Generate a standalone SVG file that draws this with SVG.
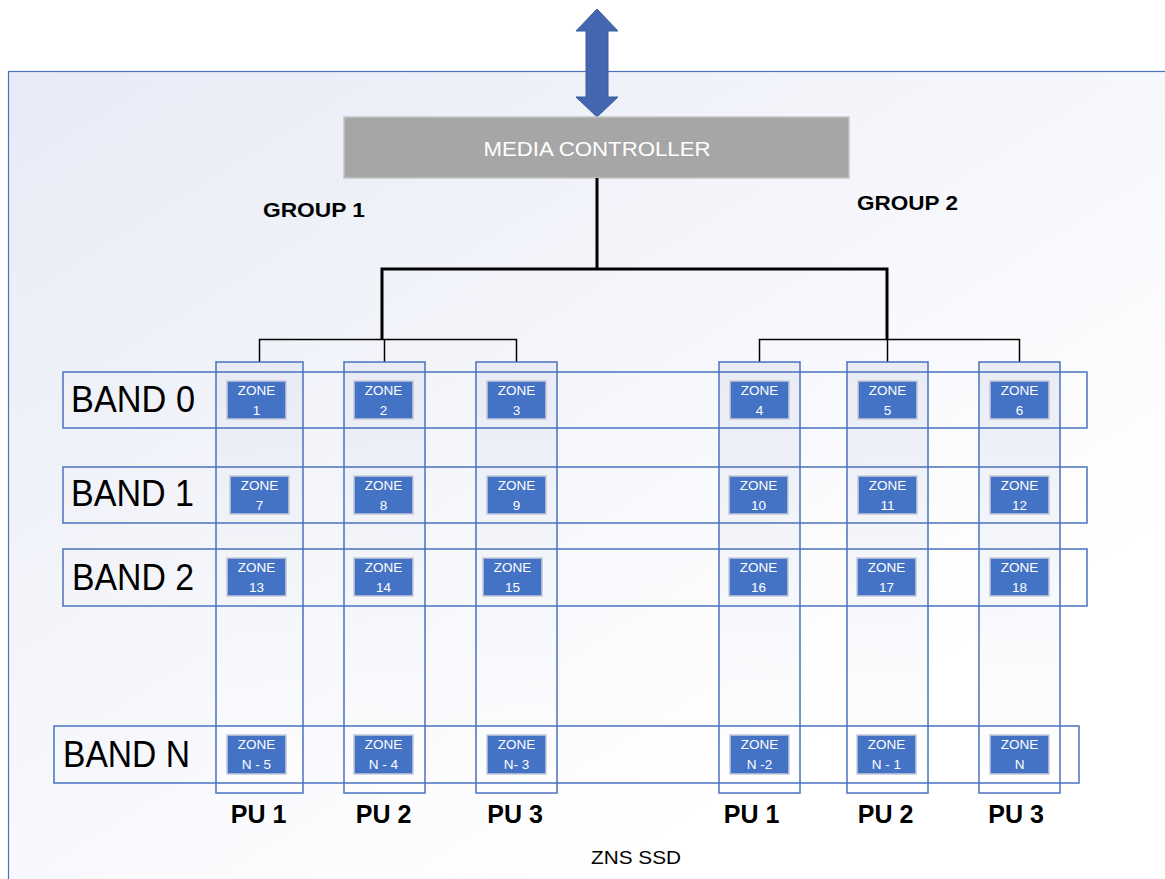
<svg xmlns="http://www.w3.org/2000/svg" width="1165" height="879" viewBox="0 0 1165 879">
<style>
.frame{fill:url(#bg);stroke:#4a72c0;stroke-width:1.2}
.col{fill:url(#colg);stroke:#4a72c0;stroke-width:1.5}
.band{fill:none;stroke:#4a72c0;stroke-width:1.5}
.zone rect{fill:#4472c4;stroke:#c3cad8;stroke-width:1.5}
.zone text{fill:#ffffff;font-family:"Liberation Sans","Open Sans",sans-serif;font-size:13.5px;text-anchor:middle}
.bandlbl{fill:#000;font-family:"Liberation Sans",sans-serif;font-size:36px}
.pu{fill:#000;font-family:"Liberation Sans",sans-serif;font-size:25px;font-weight:bold;text-anchor:middle}
.grp{fill:#000;font-family:"Liberation Sans",sans-serif;font-size:20px;font-weight:bold}
.thick{stroke:#000;stroke-width:3;fill:none}
.thin{stroke:#000;stroke-width:1.5;fill:none}
</style>
<defs>
<linearGradient id="bg" x1="0" y1="0" x2="0.7" y2="0.8">
<stop offset="0" stop-color="#e8ebf6"/>
<stop offset="1" stop-color="#ffffff"/>
</linearGradient>
<linearGradient id="colg" x1="0" y1="0" x2="0" y2="1">
<stop offset="0" stop-color="#e6e9f4" stop-opacity="0.85"/>
<stop offset="1" stop-color="#ffffff" stop-opacity="0.5"/>
</linearGradient>
</defs>
<rect x="0" y="0" width="1165" height="879" fill="#ffffff"/>
<rect class="frame" x="8.5" y="71.5" width="1160" height="830"/>

<g id="arrow">
<polygon points="597,9 618,31 608,31 608,97 618,97 597,117 576,97 586,97 586,31 576,31" fill="#4466b0" stroke="#3a5c9e" stroke-width="1"/>
</g>

<g id="media-controller">
<rect x="344" y="117" width="505" height="61" fill="#a6a6a6" stroke="#c4c4c4" stroke-width="1.5"/>
<text x="597" y="156" fill="#ffffff" font-family="Liberation Sans, sans-serif" font-size="21" text-anchor="middle" textLength="227" lengthAdjust="spacingAndGlyphs">MEDIA CONTROLLER</text>
</g>

<g id="group1-label"><text class="grp" x="263" y="217" textLength="102" lengthAdjust="spacingAndGlyphs">GROUP 1</text></g>
<g id="group2-label"><text class="grp" x="857" y="210" textLength="101" lengthAdjust="spacingAndGlyphs">GROUP 2</text></g>

<g id="connectors">
<polyline class="thick" points="597,178 597,269"/>
<polyline class="thick" points="382,340 382,269 887,269 887,340"/>
<polyline class="thin" points="259.5,362 259.5,339.5 516.5,339.5 516.5,362"/>
<line class="thin" x1="384.5" y1="339.5" x2="384.5" y2="362"/>
<polyline class="thin" points="759.5,362 759.5,339.5 1019.5,339.5 1019.5,362"/>
<line class="thin" x1="887.5" y1="339.5" x2="887.5" y2="362"/>
</g>

<g id="pu-columns">
<rect class="col" x="216" y="362" width="87" height="431"/>
<rect class="col" x="344" y="362" width="81" height="431"/>
<rect class="col" x="476" y="362" width="81" height="431"/>
<rect class="col" x="719" y="362" width="81" height="431"/>
<rect class="col" x="847" y="362" width="81" height="431"/>
<rect class="col" x="979" y="362" width="81" height="431"/>
</g>

<g id="band0"><rect class="band" x="63" y="372" width="1024" height="56"/><text class="bandlbl" x="71" y="412" textLength="124" lengthAdjust="spacingAndGlyphs">BAND 0</text></g>
<g id="band1"><rect class="band" x="63" y="467" width="1024" height="56"/><text class="bandlbl" x="71" y="506" textLength="123" lengthAdjust="spacingAndGlyphs">BAND 1</text></g>
<g id="band2"><rect class="band" x="63" y="549" width="1024" height="57"/><text class="bandlbl" x="72" y="590" textLength="122" lengthAdjust="spacingAndGlyphs">BAND 2</text></g>
<g id="bandN"><rect class="band" x="54" y="726" width="1025" height="57"/><text class="bandlbl" x="63" y="767" textLength="127" lengthAdjust="spacingAndGlyphs">BAND N</text></g>

<g id="zone1" class="zone"><rect x="227" y="381" width="59" height="38"/><text x="256.5" y="395">ZONE</text><text x="256.5" y="415">1</text></g>
<g id="zone2" class="zone"><rect x="354" y="381" width="59" height="38"/><text x="383.5" y="395">ZONE</text><text x="383.5" y="415">2</text></g>
<g id="zone3" class="zone"><rect x="487" y="381" width="59" height="38"/><text x="516.5" y="395">ZONE</text><text x="516.5" y="415">3</text></g>
<g id="zone4" class="zone"><rect x="730" y="381" width="59" height="38"/><text x="759.5" y="395">ZONE</text><text x="759.5" y="415">4</text></g>
<g id="zone5" class="zone"><rect x="858" y="381" width="59" height="38"/><text x="887.5" y="395">ZONE</text><text x="887.5" y="415">5</text></g>
<g id="zone6" class="zone"><rect x="990" y="381" width="59" height="38"/><text x="1019.5" y="395">ZONE</text><text x="1019.5" y="415">6</text></g>

<g id="zone7" class="zone"><rect x="230" y="476" width="59" height="38"/><text x="259.5" y="490">ZONE</text><text x="259.5" y="510">7</text></g>
<g id="zone8" class="zone"><rect x="354" y="476" width="59" height="38"/><text x="383.5" y="490">ZONE</text><text x="383.5" y="510">8</text></g>
<g id="zone9" class="zone"><rect x="487" y="476" width="59" height="38"/><text x="516.5" y="490">ZONE</text><text x="516.5" y="510">9</text></g>
<g id="zone10" class="zone"><rect x="729" y="476" width="59" height="38"/><text x="758.5" y="490">ZONE</text><text x="758.5" y="510">10</text></g>
<g id="zone11" class="zone"><rect x="858" y="476" width="59" height="38"/><text x="887.5" y="490">ZONE</text><text x="887.5" y="510">11</text></g>
<g id="zone12" class="zone"><rect x="990" y="476" width="59" height="38"/><text x="1019.5" y="490">ZONE</text><text x="1019.5" y="510">12</text></g>

<g id="zone13" class="zone"><rect x="227" y="558" width="59" height="38"/><text x="256.5" y="572">ZONE</text><text x="256.5" y="592">13</text></g>
<g id="zone14" class="zone"><rect x="354" y="558" width="59" height="38"/><text x="383.5" y="572">ZONE</text><text x="383.5" y="592">14</text></g>
<g id="zone15" class="zone"><rect x="483" y="558" width="59" height="38"/><text x="512.5" y="572">ZONE</text><text x="512.5" y="592">15</text></g>
<g id="zone16" class="zone"><rect x="729" y="558" width="59" height="38"/><text x="758.5" y="572">ZONE</text><text x="758.5" y="592">16</text></g>
<g id="zone17" class="zone"><rect x="857" y="558" width="59" height="38"/><text x="886.5" y="572">ZONE</text><text x="886.5" y="592">17</text></g>
<g id="zone18" class="zone"><rect x="990" y="558" width="59" height="38"/><text x="1019.5" y="572">ZONE</text><text x="1019.5" y="592">18</text></g>

<g id="zoneN-5" class="zone"><rect x="227" y="735" width="59" height="39"/><text x="256.5" y="749">ZONE</text><text x="256.5" y="769">N - 5</text></g>
<g id="zoneN-4" class="zone"><rect x="354" y="735" width="59" height="39"/><text x="383.5" y="749">ZONE</text><text x="383.5" y="769">N - 4</text></g>
<g id="zoneN-3" class="zone"><rect x="487" y="735" width="59" height="39"/><text x="516.5" y="749">ZONE</text><text x="516.5" y="769">N- 3</text></g>
<g id="zoneN-2" class="zone"><rect x="730" y="735" width="59" height="39"/><text x="759.5" y="749">ZONE</text><text x="759.5" y="769">N -2</text></g>
<g id="zoneN-1" class="zone"><rect x="857" y="735" width="59" height="39"/><text x="886.5" y="749">ZONE</text><text x="886.5" y="769">N - 1</text></g>
<g id="zoneN" class="zone"><rect x="990" y="735" width="59" height="39"/><text x="1019.5" y="749">ZONE</text><text x="1019.5" y="769">N</text></g>

<g id="pu-labels">
<text class="pu" x="258.5" y="823">PU 1</text>
<text class="pu" x="383.5" y="823">PU 2</text>
<text class="pu" x="515" y="823">PU 3</text>
<text class="pu" x="751.5" y="823">PU 1</text>
<text class="pu" x="885.5" y="823">PU 2</text>
<text class="pu" x="1016" y="823">PU 3</text>
</g>

<g id="zns-ssd-label"><text x="591" y="864" fill="#000" font-family="Liberation Sans, sans-serif" font-size="19" textLength="90" lengthAdjust="spacingAndGlyphs">ZNS SSD</text></g>
</svg>
